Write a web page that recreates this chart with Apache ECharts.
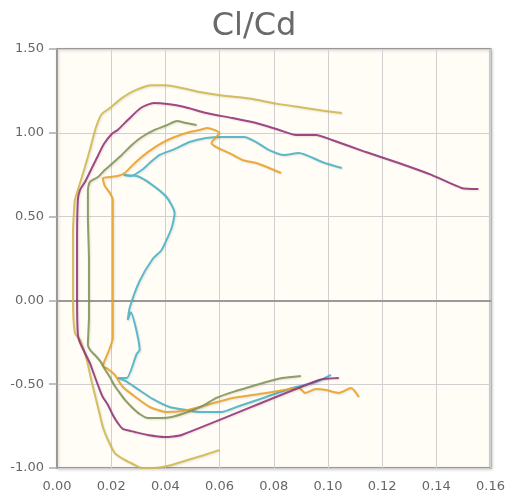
<!DOCTYPE html>
<html lang="en">
	<head>
		<meta charset="UTF-8">
		<title>Cl/Cd</title>
	</head>

	<style>
		html, body {
			margin: 0;
			padding: 0;
			background: #fff;
		}
		.polar-chart {
			width: 508px;
			height: 504px;
		}
	</style>

	<body>
		<div id="echarts" class="polar-chart"></div>
	</body>

	<script type="text/javascript" src="https://cdn.jsdelivr.net/npm/echarts@6/dist/echarts.min.js"></script>
	<script>
		// [Cd, Cl] pairs, each curve walked from its lower right end
		var tealPolar = [
			[0.1011, -0.445], [0.0956, -0.487], [0.0868, -0.523], [0.0772, -0.576], [0.0673, -0.630],
			[0.0607, -0.666], [0.0526, -0.666], [0.0478, -0.654], [0.0415, -0.636], [0.0353, -0.588],
			[0.0298, -0.529], [0.0254, -0.481], [0.0224, -0.463], [0.0257, -0.463], [0.0294, -0.320],
			[0.0305, -0.296], [0.0272, -0.070], [0.0261, -0.117], [0.0268, -0.045], [0.0305, 0.116],
			[0.0353, 0.247], [0.0386, 0.301], [0.0423, 0.432], [0.0434, 0.521], [0.0404, 0.617],
			[0.0342, 0.700], [0.0294, 0.742], [0.0246, 0.748], [0.0272, 0.742], [0.0313, 0.778],
			[0.0342, 0.820], [0.0379, 0.868], [0.0434, 0.903], [0.0489, 0.945], [0.0551, 0.969],
			[0.0610, 0.975], [0.0691, 0.975], [0.0735, 0.945], [0.0783, 0.897], [0.0838, 0.868],
			[0.0893, 0.879], [0.0978, 0.826], [0.1051, 0.790]
		]

		var orangePolar = [
			[0.1114, -0.576], [0.1085, -0.523], [0.1040, -0.552], [0.0993, -0.535], [0.0956, -0.529],
			[0.0915, -0.552], [0.0893, -0.523], [0.0772, -0.553], [0.0647, -0.582], [0.0526, -0.636],
			[0.0463, -0.660], [0.0404, -0.666], [0.0342, -0.636], [0.0294, -0.582], [0.0243, -0.517],
			[0.0213, -0.445], [0.0188, -0.409], [0.0169, -0.391], [0.0180, -0.344], [0.0195, -0.284],
			[0.0206, -0.224], [0.0206, 0.241], [0.0206, 0.599], [0.0195, 0.641], [0.0176, 0.683],
			[0.0169, 0.730], [0.0195, 0.736], [0.0224, 0.742], [0.0250, 0.760], [0.0287, 0.820],
			[0.0335, 0.885], [0.0386, 0.939], [0.0434, 0.975], [0.0489, 1.005], [0.0526, 1.017],
			[0.0555, 1.029], [0.0599, 0.999], [0.0570, 0.939], [0.0588, 0.915], [0.0636, 0.879],
			[0.0684, 0.838], [0.0735, 0.820], [0.0783, 0.790], [0.0827, 0.760]
		]

		var yellowPolar = [
			[0.0599, -0.893], [0.0544, -0.922], [0.0482, -0.952], [0.0423, -0.982], [0.0360, -1.000],
			[0.0313, -1.000], [0.0287, -0.982], [0.0250, -0.952], [0.0213, -0.911], [0.0188, -0.833],
			[0.0169, -0.755], [0.0151, -0.636], [0.0129, -0.493], [0.0110, -0.356], [0.0085, -0.236],
			[0.0066, -0.195], [0.0059, 0.002], [0.0059, 0.420], [0.0063, 0.539], [0.0066, 0.599],
			[0.0085, 0.700], [0.0103, 0.796], [0.0121, 0.897], [0.0143, 1.029], [0.0165, 1.112],
			[0.0195, 1.148], [0.0239, 1.207], [0.0290, 1.255], [0.0349, 1.284], [0.0401, 1.284],
			[0.0460, 1.267], [0.0526, 1.243], [0.0610, 1.222], [0.0710, 1.204], [0.0809, 1.174],
			[0.0904, 1.151], [0.0978, 1.133], [0.1051, 1.118]
		]

		var greenPolar = [
			[0.0900, -0.451], [0.0831, -0.463], [0.0772, -0.487], [0.0710, -0.517], [0.0647, -0.547],
			[0.0588, -0.582], [0.0537, -0.630], [0.0482, -0.666], [0.0423, -0.696], [0.0386, -0.702],
			[0.0335, -0.702], [0.0305, -0.678], [0.0279, -0.642], [0.0254, -0.600], [0.0232, -0.553],
			[0.0213, -0.511], [0.0195, -0.457], [0.0176, -0.409], [0.0162, -0.368], [0.0143, -0.332],
			[0.0125, -0.302], [0.0114, -0.266], [0.0118, -0.099], [0.0118, 0.241], [0.0114, 0.498],
			[0.0114, 0.659], [0.0121, 0.706], [0.0151, 0.736], [0.0176, 0.778], [0.0206, 0.820],
			[0.0239, 0.868], [0.0276, 0.927], [0.0313, 0.975], [0.0360, 1.017], [0.0408, 1.047],
			[0.0441, 1.070], [0.0478, 1.058], [0.0515, 1.047]
		]

		var purplePolar = [
			[0.1040, -0.463], [0.0967, -0.475], [0.0460, -0.803], [0.0397, -0.815], [0.0335, -0.803],
			[0.0287, -0.785], [0.0243, -0.767], [0.0224, -0.731], [0.0206, -0.684], [0.0188, -0.624],
			[0.0169, -0.576], [0.0158, -0.535], [0.0140, -0.457], [0.0121, -0.373], [0.0103, -0.314],
			[0.0085, -0.254], [0.0077, -0.206], [0.0074, 0.004], [0.0074, 0.360], [0.0077, 0.599],
			[0.0085, 0.659], [0.0103, 0.706], [0.0125, 0.778], [0.0147, 0.850], [0.0173, 0.933],
			[0.0202, 0.993], [0.0224, 1.017], [0.0261, 1.076], [0.0309, 1.148], [0.0357, 1.178],
			[0.0408, 1.172], [0.0471, 1.154], [0.0551, 1.118], [0.0647, 1.088], [0.0735, 1.058],
			[0.0820, 1.017], [0.0882, 0.987], [0.0956, 0.987], [0.1015, 0.957], [0.1140, 0.885],
			[0.1261, 0.820], [0.1382, 0.749], [0.1493, 0.671], [0.1555, 0.665]
		]

		var seriesList = [
			{ name: 'teal', data: tealPolar, color: '#4bb2c5' },
			{ name: 'orange', data: orangePolar, color: '#eaa228' },
			{ name: 'yellow', data: yellowPolar, color: '#d2b850' },
			{ name: 'green', data: greenPolar, color: '#839557' },
			{ name: 'purple', data: purplePolar, color: '#953579' }
		]

		var myChart = echarts.init(document.getElementById('echarts'), null, { renderer: 'canvas' })

		function fixed2 (value) {
			return Number(value).toFixed(2)
		}

		var option = {
			animation: false,
			title: {
				text: 'Cl/Cd',
				left: 'center',
				top: 6,
				textStyle: {
					fontFamily: 'DejaVu Sans',
					fontSize: 32,
					fontWeight: 'normal',
					color: '#6a6a6a'
				}
			},
			grid: {
				left: 57,
				right: 16,
				top: 49,
				bottom: 36,
				show: true,
				backgroundColor: '#fffdf6',
				borderColor: '#999',
				borderWidth: 2,
				shadowColor: 'rgba(0,0,0,0.15)',
				shadowBlur: 3,
				shadowOffsetX: 1,
				shadowOffsetY: 1
			},
			xAxis: {
				type: 'value',
				min: 0,
				max: 0.16,
				interval: 0.02,
				axisLine: { show: true, lineStyle: { color: '#999', width: 2 } },
				axisTick: { show: false },
				splitLine: { show: true, lineStyle: { color: '#d0d0d0', width: 1 } },
				axisLabel: {
					margin: 12,
					fontFamily: 'DejaVu Sans',
					fontSize: 13,
					color: '#666',
					formatter: fixed2
				}
			},
			yAxis: {
				type: 'value',
				min: -1,
				max: 1.5,
				interval: 0.5,
				axisLine: { show: true, lineStyle: { color: '#999', width: 2 } },
				axisTick: { show: true, length: 8, lineStyle: { color: '#aaa', width: 1.5 } },
				splitLine: { show: true, lineStyle: { color: '#d0d0d0', width: 1 } },
				axisLabel: {
					margin: 13,
					fontFamily: 'DejaVu Sans',
					fontSize: 13,
					color: '#666',
					formatter: fixed2
				}
			},
			series: seriesList.map(function (s) {
				return {
					name: s.name,
					type: 'line',
					showSymbol: false,
					smooth: 0.2,
					data: s.data,
					lineStyle: {
						color: s.color,
						width: 2,
						opacity: 0.9,
						shadowColor: 'rgba(0,0,0,0.12)',
						shadowBlur: 2,
						shadowOffsetX: 1,
						shadowOffsetY: 1
					}
				}
			})
		}

		myChart.setOption(option, true)
	</script>
</html>
